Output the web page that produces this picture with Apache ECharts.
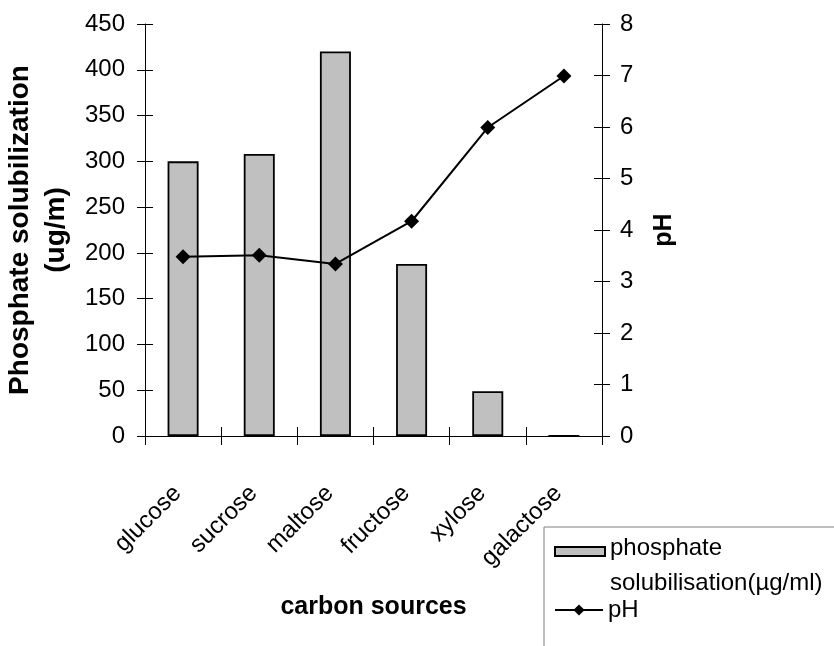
<!DOCTYPE html>
<html>
<head>
<meta charset="utf-8">
<script src="https://cdn.jsdelivr.net/npm/echarts@6/dist/echarts.min.js"></script>
<style>html,body{margin:0;padding:0;background:#fff}#c{width:834px;height:646px}</style>
</head>
<body>
<div id="c"></div>
<script>
const categories = ['glucose', 'sucrose', 'maltose', 'fructose', 'xylose', 'galactose'];
const phosphateValues = [300, 308, 420, 188, 49, 0];
const phValues = [3.48, 3.51, 3.34, 4.17, 5.99, 6.99];
const barName = 'phosphate solubilisation(µg/ml)';
const lineName = 'pH';

const FONT = 'Liberation Sans, Arial, sans-serif';
const chart = echarts.init(document.getElementById('c'), null, {renderer: 'canvas'});
const baseText = {color: '#000', fontFamily: FONT, fontSize: 24};

const option = {
  animation: false,
  backgroundColor: '#fff',
  grid: {left: 145, right: 232, top: 24, bottom: 210, containLabel: false, outerBoundsMode: 'none'},
  legend: [
    {
      data: [{name: barName, icon: 'path://M0,0L50,0L50,9L0,9Z M0,37'}],
      orient: 'vertical', left: 544, top: 527,
      padding: [3.5, 20, 80, 10],
      itemWidth: 50, itemHeight: 37, itemGap: 0, itemTextGap: 10,
      borderColor: '#808080', borderWidth: 1, backgroundColor: '#fff',
      selectedMode: false,
      formatter: () => 'phosphate\nsolubilisation(µg/ml)',
      textStyle: Object.assign({}, baseText, {lineHeight: 35})
    },
    {
      data: [lineName],
      orient: 'vertical', left: 554, top: 598,
      padding: 0,
      itemWidth: 48, itemHeight: 14, itemTextGap: 2,
      selectedMode: false,
      textStyle: Object.assign({}, baseText, {lineHeight: 24})
    }
  ],
  xAxis: [
    {
      type: 'category', data: categories, position: 'bottom',
      axisLine: {lineStyle: {color: '#000', width: 1}},
      axisTick: {show: true, inside: false, length: 9, lineStyle: {color: '#000'}},
      axisLabel: Object.assign({}, baseText, {rotate: 45, margin: 48, interval: 0, padding: [0, 8, 0, 0]}),
      name: 'carbon sources', nameLocation: 'middle', nameGap: 159,
      nameTextStyle: Object.assign({}, baseText, {fontWeight: 'bold', fontSize: 25}),
      splitLine: {show: false}
    },
    {
      type: 'category', data: categories, position: 'bottom',
      axisLine: {show: false},
      axisTick: {show: true, inside: true, length: 9, lineStyle: {color: '#000'}},
      axisLabel: {show: false}, splitLine: {show: false}
    }
  ],
  yAxis: [
    {
      type: 'value', min: 0, max: 450, interval: 50, position: 'left',
      axisLine: {show: true, lineStyle: {color: '#000'}},
      axisTick: {show: true, length: 8, lineStyle: {color: '#000'}},
      axisLabel: Object.assign({}, baseText, {margin: 20}),
      splitLine: {show: false},
      name: 'Phosphate solubilization\n(ug/m)', nameLocation: 'middle', nameRotate: 90, nameGap: 57,
      nameTextStyle: Object.assign({}, baseText, {fontWeight: 'bold', fontSize: 28, lineHeight: 36})
    },
    {
      type: 'value', min: 0, max: 8, interval: 1, position: 'right',
      axisLine: {show: true, lineStyle: {color: '#000'}},
      axisTick: {show: true, length: 8, lineStyle: {color: '#000'}},
      axisLabel: Object.assign({}, baseText, {margin: 18}),
      splitLine: {show: false},
      name: 'pH', nameLocation: 'middle', nameRotate: 90, nameGap: 50,
      nameTextStyle: Object.assign({}, baseText, {fontWeight: 'bold', fontSize: 25})
    },
    {
      type: 'value', min: 0, max: 450, interval: 50, position: 'left', offset: 0,
      axisLine: {show: false},
      axisTick: {show: true, inside: true, length: 8, lineStyle: {color: '#000'}},
      axisLabel: {show: false}, splitLine: {show: false}
    },
    {
      type: 'value', min: 0, max: 8, interval: 1, position: 'right', offset: 0,
      axisLine: {show: false},
      axisTick: {show: true, inside: true, length: 8, lineStyle: {color: '#000'}},
      axisLabel: {show: false}, splitLine: {show: false}
    }
  ],
  series: [
    {
      name: barName, type: 'bar', data: phosphateValues, xAxisIndex: 0, yAxisIndex: 0,
      barWidth: 31,
      itemStyle: {color: '#c0c0c0', borderColor: '#000', borderWidth: 1.8}
    },
    {
      name: lineName, type: 'line', data: phValues, xAxisIndex: 0, yAxisIndex: 1,
      symbol: 'diamond', symbolSize: 15,
      lineStyle: {color: '#000', width: 2},
      itemStyle: {color: '#000'}
    }
  ]
};
chart.setOption(option);
</script>
</body>
</html>
